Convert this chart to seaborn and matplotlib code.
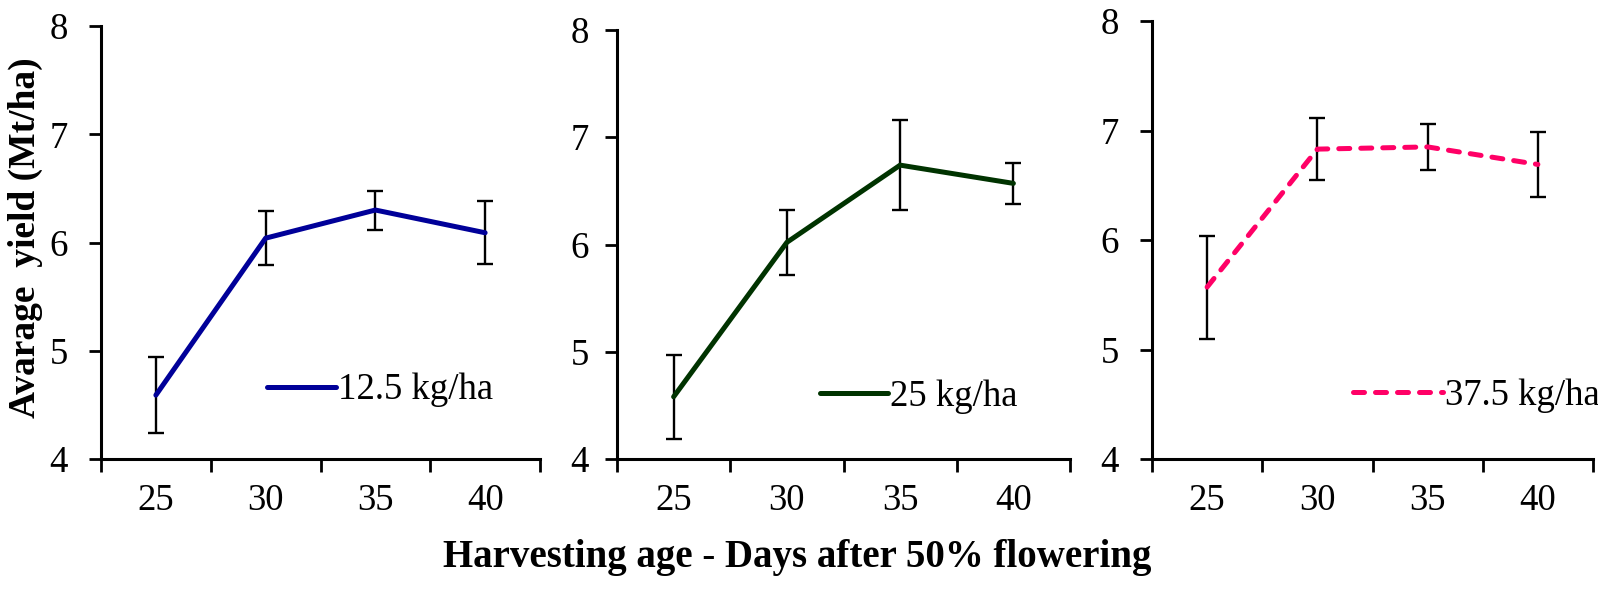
import matplotlib
matplotlib.use("Agg")
import matplotlib.pyplot as plt
import numpy as np
import pandas as pd
import seaborn as sns

# harvesting age (days after 50% flowering)
days = ["25", "30", "35", "40"]

# average yield (Mt/ha) and error bar half widths per seed rate
yield_125 = [4.59, 6.04, 6.30, 6.09]
err_125 = [0.35, 0.25, 0.18, 0.29]

yield_25 = [4.58, 6.02, 6.74, 6.57]
err_25 = [0.39, 0.30, 0.42, 0.19]

yield_375 = [5.57, 6.83, 6.85, 6.69]
err_375 = [0.47, 0.28, 0.21, 0.30]

labels = ["12.5 kg/ha", "25 kg/ha", "37.5 kg/ha"]
colors = ["#000099", "#003300", "#FF0066"]

sns.set_style("white")
plt.rcParams['font.family'] = ['Liberation Serif', 'DejaVu Serif']
plt.rcParams.update({"text.color": "black", "axes.labelcolor": "black",
                     "xtick.color": "black", "ytick.color": "black"})

fig = plt.figure(figsize=(15.98, 5.91), dpi=100)
W, H = 1598, 591
# axes boxes in pixels: left, top, right, bottom
boxes = [(101, 26, 540, 459), (617, 30, 1070, 459), (1152, 21, 1593, 459)]
legend_pos = [(0.378, 0.159, 1.87), (0.448, 0.145, 1.85), (0.455, 0.144, 2.45)]
ypads = [15, 11, 15]
fs = 26.5
lw = 3.6

series = [(yield_125, err_125), (yield_25, err_25), (yield_375, err_375)]

for i, (vals, errs) in enumerate(series):
    l, t, r, b = boxes[i]
    ax = fig.add_axes([l / W, 1 - b / H, (r - l) / W, (b - t) / H])
    df = pd.DataFrame({"days": days, "yield": vals, "err": errs})
    df["pos"] = np.arange(len(df))

    ax.errorbar(df["pos"], df["yield"], yerr=df["err"], fmt="none",
                ecolor="black", elinewidth=1.7, capsize=5.5, capthick=1.7, zorder=2)
    ls = "--" if i == 2 else "-"
    sns.lineplot(data=df, x="pos", y="yield", ax=ax, color=colors[i],
                 linewidth=lw, linestyle=ls, label=labels[i], zorder=3)
    if i == 2:
        for ln in ax.get_lines():
            if ln.get_label() == labels[i]:
                ln.set_dashes([2.2, 2.2])
                ln.set_dash_capstyle("round")

    ax.set_xlim(-0.5, len(days) - 0.5)
    ax.set_ylim(4, 8)
    ax.set_yticks([4, 5, 6, 7, 8])
    ax.set_xticks(np.arange(len(days) + 1) - 0.5)
    ax.set_xticklabels([])
    ax.set_xticks(np.arange(len(days)), minor=True)
    ax.set_xticklabels(days, minor=True)
    ax.tick_params(axis="x", which="major", direction="out", length=9, width=2,
                   bottom=True, color="black")
    ax.tick_params(axis="x", which="minor", length=0, pad=18, labelsize=fs)
    ax.tick_params(axis="y", direction="out", length=9, width=2, left=True,
                   pad=ypads[i], labelsize=fs, color="black")
    ax.set_xlabel("")
    ax.set_ylabel("")
    for side in ["top", "right"]:
        ax.spines[side].set_visible(False)
    for side in ["left", "bottom"]:
        ax.spines[side].set_linewidth(2.2)
        ax.spines[side].set_color("black")

    lx, ly, hl = legend_pos[i]
    leg = ax.legend(loc="center left", bbox_to_anchor=(lx, ly), frameon=False,
                    fontsize=fs, handlelength=hl, handletextpad=0.05,
                    borderpad=0, borderaxespad=0)
    for h in leg.get_lines():
        h.set_linewidth(lw)
        h.set_solid_capstyle("round")
        if i == 2:
            h.set_dashes([2.2, 2.2])
            h.set_dash_capstyle("round")

fig.text(25 / W, 1 - 238 / H, "Avarage  yield (Mt/ha)", rotation=90,
         ha="center", va="center", fontsize=27, fontweight="bold")
fig.text(797 / W, 1 - 558 / H, "Harvesting age - Days after 50% flowering",
         ha="center", va="center", fontsize=28, fontweight="bold")

fig.savefig("out.png", dpi=100)
